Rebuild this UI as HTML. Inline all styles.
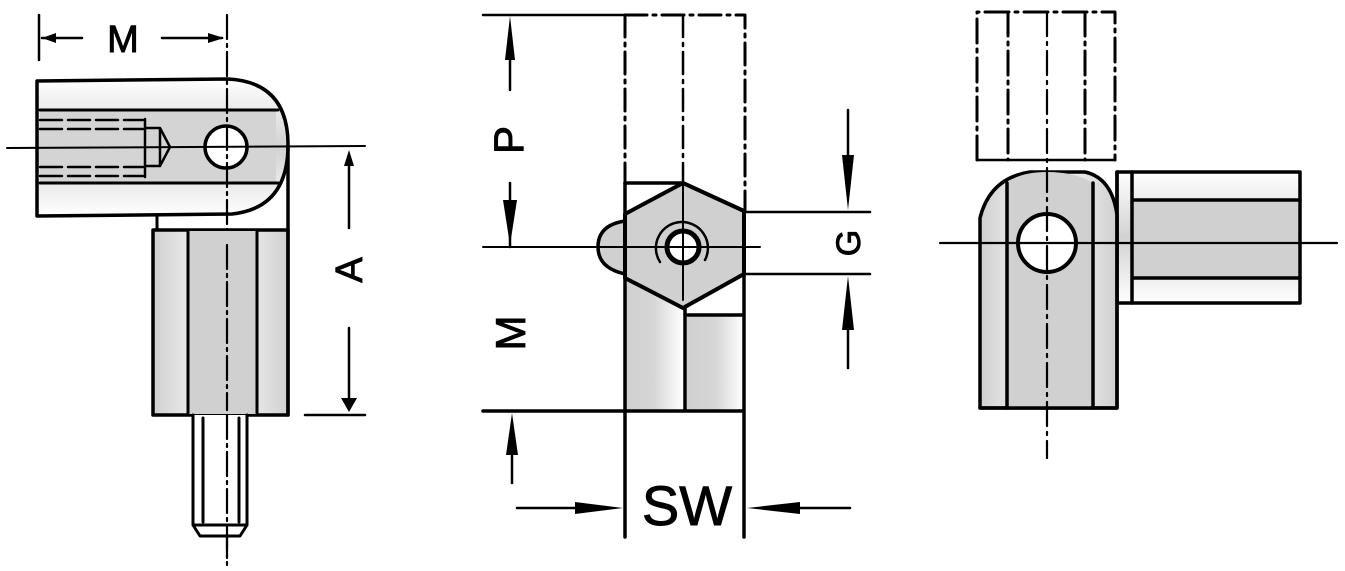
<!DOCTYPE html>
<html><head><meta charset="utf-8"><style>
html,body{margin:0;padding:0;background:#fff;}
svg{display:block;}
text{font-family:"Liberation Sans",Arial,sans-serif;fill:#000;stroke:#000;stroke-width:0.9;}
</style></head><body>
<svg width="1345" height="571" viewBox="0 0 1345 571" xmlns="http://www.w3.org/2000/svg">
<defs>
<linearGradient id="gv" x1="0" y1="0" x2="0" y2="1"><stop offset="0" stop-color="#fff"/><stop offset="0.5" stop-color="#d2d2d2"/><stop offset="1" stop-color="#fff"/></linearGradient>
<linearGradient id="gh" x1="0" y1="0" x2="1" y2="0"><stop offset="0" stop-color="#d0d0d0"/><stop offset="0.5" stop-color="#d6d6d6"/><stop offset="1" stop-color="#fff"/></linearGradient>
<linearGradient id="gh2" x1="0" y1="0" x2="1" y2="0"><stop offset="0" stop-color="#d0d0d0"/><stop offset="0.5" stop-color="#fff"/><stop offset="1" stop-color="#d0d0d0"/></linearGradient>
</defs>
<g fill="none" stroke="#000" stroke-linecap="round" stroke-linejoin="round">

<!-- ===== LEFT VIEW ===== -->
<path d="M37,81 L228,79 Q288,82 288,145 Q288,208 232,214 L37,216 Z" fill="url(#gv)" stroke-width="3.5"/>
<rect x="40" y="111" width="236" height="71" fill="#d4d4d4" stroke="none"/>
<path d="M40,110 L278,110 M40,183 L278,183" stroke-width="3"/>
<path d="M40,120 L143,120 M40,129 L143,129 M40,167 L143,167 M40,176 L143,176" stroke-width="2.5" stroke-dasharray="22,6"/>
<path d="M145,119 L145,177 M145,128 L160,128 L170,147 L160,166 L145,166 M160,128 L160,166" stroke-width="2.5"/>
<circle cx="226" cy="147" r="21" fill="#fff" stroke-width="3.5"/>
<path d="M7,148 L365,146" stroke-width="2"/>
<path d="M227,15 L227,565" stroke-width="2.2" stroke-dasharray="24,5,3,5"/>
<path d="M157,216 L157,230" stroke-width="3"/>
<rect x="153" y="230" width="135" height="185" fill="url(#gh2)" stroke-width="3.5"/>
<rect x="188" y="231" width="69" height="183" fill="#d0d0d0" stroke="none"/>
<path d="M188,231 L188,414 M257,231 L257,414" stroke-width="3"/>
<path d="M288,146 L288,415" stroke-width="3.5"/>
<path d="M227,245 L227,410" stroke-width="2.2" stroke-dasharray="24,5,3,5"/>
<path d="M193,415 L193,525 L200,536 L240,536 L247,525 L247,415 M193,525 L247,525 M203,418 L203,522 M239,418 L239,522" stroke-width="3" fill="#fff"/>
<path d="M227,415 L227,560" stroke-width="2.2" stroke-dasharray="24,5,3,5"/>
<path d="M39,15 L39,60 M42,38 L82,38 M162,38 L222,38" stroke-width="2.5"/>
<path d="M349,165 L349,228 M349,328 L349,400 M305,415 L365,415" stroke-width="2.5"/>

<!-- ===== MIDDLE VIEW ===== -->
<path d="M483,15 L625,15" stroke-width="2.5"/>
<path d="M625,15 L745,15 L745,210" stroke-width="3" stroke-dasharray="22,6,3,6"/>
<path d="M625,15 L625,183" stroke-width="3" stroke-dasharray="22,6,3,6"/>
<path d="M683,15 L683,183" stroke-width="2.5" stroke-dasharray="22,6,3,6"/>
<rect x="625" y="280" width="58" height="131" fill="url(#gh)" stroke="none"/>
<rect x="687" y="315" width="57" height="96" fill="url(#gh)" stroke="none"/>
<path d="M625,183 L625,537 M744,211 L744,537 M685,300 L685,411 M688,315 L744,315 M483,411 L744,411" stroke-width="3.5"/>
<path d="M625,183 L683,183" stroke-width="3.5"/>
<path d="M625,221 Q598,225 598,247 Q598,268 625,274 Z" fill="#d0d0d0" stroke-width="3.5"/>
<path d="M683,183 L744,211 L744,274 L683,308 L625,278 L625,214 Z" fill="#d0d0d0" stroke-width="4"/>
<circle cx="683" cy="247" r="16" fill="#fff" stroke-width="5"/>
<path d="M660,262 A26,26 0 1 1 705,260" stroke-width="2.5"/>
<path d="M483,247 L760,247 M683,183 L683,300" stroke-width="2"/>
<path d="M744,212 L870,212 M744,274 L870,274" stroke-width="2.5"/>
<path d="M510,40 L510,90 M510,183 L510,247" stroke-width="2.5"/>
<path d="M512,445 L512,483" stroke-width="2.5"/>
<path d="M848,110 L848,190 M848,300 L848,368" stroke-width="2.5"/>
<path d="M517,508 L600,508 M770,508 L850,508" stroke-width="2.5"/>

<!-- ===== RIGHT VIEW ===== -->
<path d="M977,160 L977,12 L1115,12 L1115,160" stroke-width="3" stroke-dasharray="24,6,3,6"/>
<path d="M1008,12 L1008,160 M1085,12 L1085,160" stroke-width="3" stroke-dasharray="24,6,3,6"/>
<path d="M977,160 L1115,160" stroke-width="2.5"/>
<rect x="1117" y="172" width="183" height="131" fill="url(#gv)" stroke-width="3.5"/>
<rect x="1132" y="200" width="166" height="78" fill="#d0d0d0" stroke="none"/>
<path d="M1132,172 L1132,303 M1132,200 L1300,200 M1132,278 L1300,278" stroke-width="3.5"/>
<path d="M980,408 L980,218 Q990,178 1030,172 L1085,172 Q1112,178 1117,215 L1117,408 Z" fill="url(#gh2)" stroke-width="3.5"/>
<path d="M1007,183 L1007,408 L1093,408 L1093,183 Q1075,172 1047,172 Q1020,172 1007,183 Z" fill="#d0d0d0" stroke="none"/>
<path d="M1007,183 L1007,408 M1093,183 L1093,408" stroke-width="3.5"/>
<path d="M980,408 L1117,408 M1117,172 L1117,408" stroke-width="3.5"/>
<circle cx="1047" cy="243" r="29" fill="#fff" stroke-width="4"/>
<path d="M940,243 L1337,243" stroke-width="2.2"/>
<path d="M1047,12 L1047,458" stroke-width="2.2" stroke-dasharray="24,6,3,6"/>
</g>

<g fill="#000">
<polygon points="42,38 56,33 56,43"/>
<polygon points="224,38 208,33 208,43"/>
<polygon points="349,150 344,166 354,166"/>
<polygon points="349,412 341,398 357,398"/>
<polygon points="510,16 505,60 515,60"/>
<polygon points="510,245 503,200 517,200"/>
<polygon points="512,413 506,455 518,455"/>
<polygon points="848,210 842,155 854,155"/>
<polygon points="848,276 842,330 854,330"/>
<polygon points="623,508 575,502 575,514"/>
<polygon points="747,508 800,502 800,514"/>
</g>

<text x="123" y="52" font-size="38" text-anchor="middle">M</text>
<text transform="translate(362,270) rotate(-90)" font-size="38" text-anchor="middle">A</text>
<text transform="translate(523,140) rotate(-90)" font-size="42" text-anchor="middle">P</text>
<text transform="translate(525,333) rotate(-90)" font-size="42" text-anchor="middle">M</text>
<text transform="translate(860,243) rotate(-90)" font-size="34" text-anchor="middle">G</text>
<text x="687" y="525" font-size="56" text-anchor="middle">SW</text>
</svg>
</body></html>
